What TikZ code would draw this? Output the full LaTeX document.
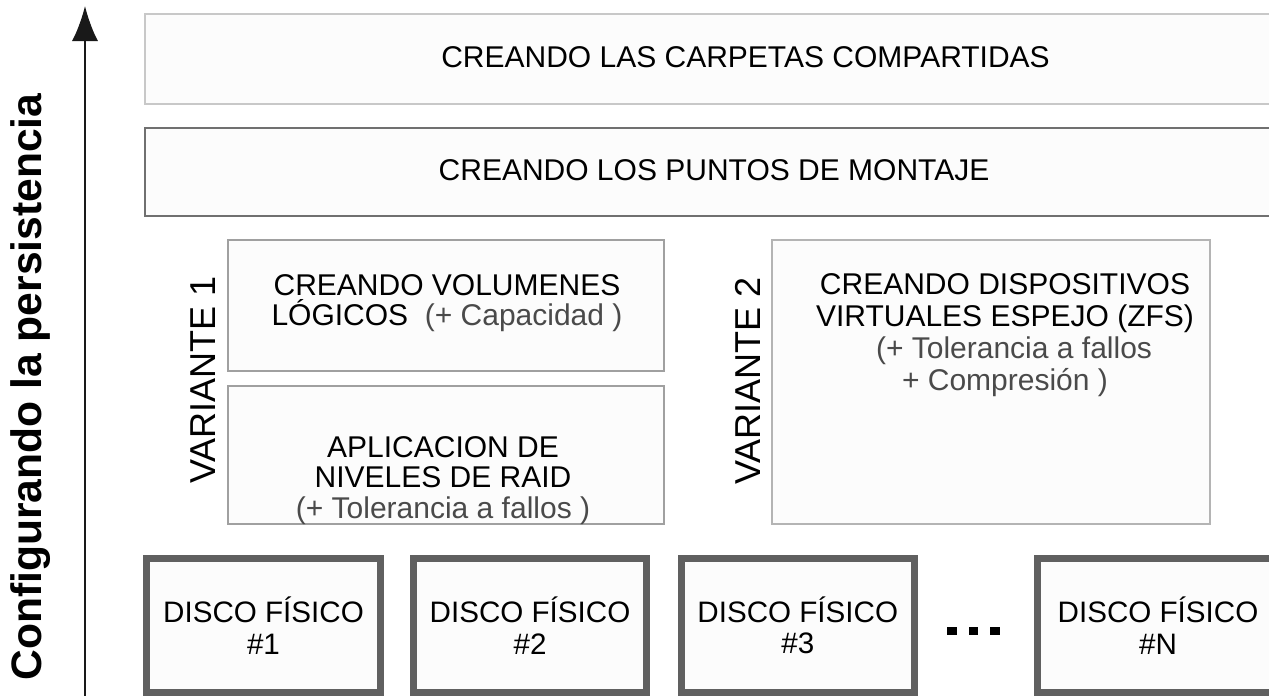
\documentclass[tikz,border=0pt]{standalone}
\usepackage{fontspec}
\setmainfont{Liberation Sans}
\usetikzlibrary{arrows.meta}
\definecolor{txtgrey}{HTML}{4A4A4A}
\definecolor{boxfill}{HTML}{FCFCFC}
\definecolor{lightborder}{HTML}{C8C8C8}
\definecolor{midborder}{HTML}{707070}
\definecolor{vborder}{HTML}{A0A0A0}
\definecolor{vborderb}{HTML}{B4B4B4}
\definecolor{diskborder}{HTML}{606060}
\tikzset{
  layerbox/.style={draw, fill=boxfill, line width=1.5pt, inner sep=0pt, outer sep=0pt},
  diskbox/.style={draw=diskborder, fill=boxfill, line width=7pt, minimum height=134pt, inner sep=0pt, align=center, font=\fontsize{29.6}{31.5}\selectfont},
  lbl/.style={inner sep=0pt, align=center, font=\fontsize{30}{30.5}\selectfont},
  vlabel/.style={inner sep=0pt, rotate=90, font=\fontsize{36}{38}\selectfont},
  gr/.style={text=txtgrey}
}
\begin{document}
\begin{tikzpicture}[x=1pt,y=-1pt]
\useasboundingbox (0,0) rectangle (1269,696);
\fill[white] (0,0) rectangle (1269,696);
% layer boxes
\node[layerbox, draw=lightborder, minimum width=1201pt, minimum height=90pt] (carpetas) at (745.5,59) {};
\node[lbl] (carpetastxt) at (745.5,57) {CREANDO LAS CARPETAS COMPARTIDAS};
\node[layerbox, draw=midborder, minimum width=1138pt, minimum height=88pt] (montaje) at (714,172) {};
\node[lbl] (montajetxt) at (714,170) {CREANDO LOS PUNTOS DE MONTAJE};
% variant 1
\node[layerbox, draw=vborder, minimum width=436pt, minimum height=131pt] (volumenes) at (446,305.5) {};
\node[lbl, anchor=north] (voltxt) at (447,274) {CREANDO VOLUMENES\\LÓGICOS\ \ {\color{txtgrey}(+ Capacidad )}};
\node[layerbox, draw=vborder, minimum width=436pt, minimum height=138pt] (raid) at (446,455) {};
\node[lbl, anchor=north] (raidtxt) at (443,436) {APLICACION DE\\NIVELES DE RAID\\{\color{txtgrey}(+ Tolerancia a fallos )}};
\node[vlabel] (v1) at (203.5,380) {VARIANTE 1};
% variant 2
\node[layerbox, draw=vborderb, minimum width=438pt, minimum height=284pt] (zfs) at (991,382) {};
\node[lbl, anchor=north, font=\fontsize{30}{32}\selectfont] (zfstxt) at (1005,273) {CREANDO DISPOSITIVOS\\VIRTUALES ESPEJO (ZFS)\\{\color{txtgrey}\hspace*{18pt}(+ Tolerancia a fallos}\\{\color{txtgrey}+ Compresión )}};
\node[vlabel] (v2) at (748,381) {VARIANTE 2};
% disks
\node[diskbox, minimum width=234pt] (d1) at (263.5,625.5) {DISCO FÍSICO\\\#1};
\node[diskbox, minimum width=233pt] (d2) at (530,625.5) {DISCO FÍSICO\\\#2};
\node[diskbox, minimum width=233.5pt] (d3) at (797.75,625.5) {DISCO FÍSICO\\\#3};
\node[diskbox, minimum width=241pt] (dn) at (1158,625.5) {DISCO FÍSICO\\\#N};
\node[inner sep=0pt] (dots) at (973.5,631) {\rule{9.5pt}{8.5pt}\hspace{12pt}\rule{9.5pt}{8.5pt}\hspace{12pt}\rule{9.5pt}{8.5pt}};
% axis arrow
\coordinate (abot) at (85,696);
\coordinate (atop) at (85,6);
\draw[line width=2pt, draw=black!90, -{Latex[length=35pt,width=26pt]}] (abot) -- (atop);
\node[inner sep=0pt, rotate=90, font=\fontsize{42.6}{45}\selectfont\bfseries] (axislabel) at (31,387) {Configurando la persistencia};
\end{tikzpicture}
\end{document}
